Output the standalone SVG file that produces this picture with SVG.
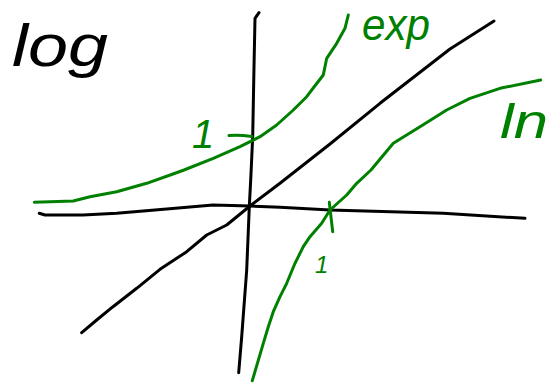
<svg xmlns="http://www.w3.org/2000/svg" width="551" height="386" viewBox="0 0 551 386">
<style>
.k{fill:none;stroke:#000;stroke-width:3;stroke-linecap:round;stroke-linejoin:round}
.g{fill:none;stroke:#008000;stroke-width:3;stroke-linecap:round;stroke-linejoin:round}
.t{font-family:"Liberation Sans",Arial,sans-serif;font-style:italic}
.tg{fill:#008000}
</style>
<rect width="551" height="386" fill="#fff"/>
<g id="axes">
<polyline class="k" points="39.3,213.3 45,215 83,215 116.7,213.3 166.7,209 213,205 250,206 280,207.3 330,210 443.3,213.3 525,218.3"/>
<polyline class="k" points="259,12.7 255,18.3 254,66.7 252.7,136.7 250.7,180 249.3,206.7 246.7,270 241.7,336.7 238.7,372.7"/>
<polyline class="k" points="81.7,332.7 96.7,320 113,306.7 136.7,288.3 160,269.3 186.7,251.7 206.7,235 226.7,225 250,206 280,183.3 330,144 380,103.3 450,49 494,21"/>
</g>
<g id="exp">
<polyline class="g" points="34.3,202.3 73.3,201 90,196.7 116.7,191.7 146.7,183.3 173,174 184,170 213.3,158.3 240,146.7 260,136.7 276.7,125 293.3,110 306.7,96.7 314,87 323.3,75 326.7,58.3 336.7,43.3 345,28.3 348.3,15"/>
<path class="g" d="M229,135.5 Q238,134.5 252,136.5"/>
<text class="t tg" x="362" y="40" font-size="44" textLength="68" lengthAdjust="spacingAndGlyphs">exp</text>
<text class="t tg" x="192" y="148" font-size="40">1</text>
</g>
<g id="ln">
<polyline class="g" points="252.3,380.7 263.3,343.3 268.3,326.7 273.3,311.7 280,296.7 286.7,283.3 295,263.3 303.3,246.7 310,236.7 321.7,223.3 330,210 346.7,195 356.7,183.3 371,170 393.3,143.3 420,126.7 446.7,110 470,98.3 500,88.3 540.7,80"/>
<path class="g" d="M329.3,202.3 L332.7,231.7"/>
<text class="t tg" x="500" y="138" font-size="48" textLength="48" lengthAdjust="spacingAndGlyphs">ln</text>
<text class="t tg" x="315" y="273" font-size="24">1</text>
</g>
<g id="title">
<text class="t" x="12" y="66" font-size="60" textLength="96" lengthAdjust="spacingAndGlyphs">log</text>
</g>
</svg>
